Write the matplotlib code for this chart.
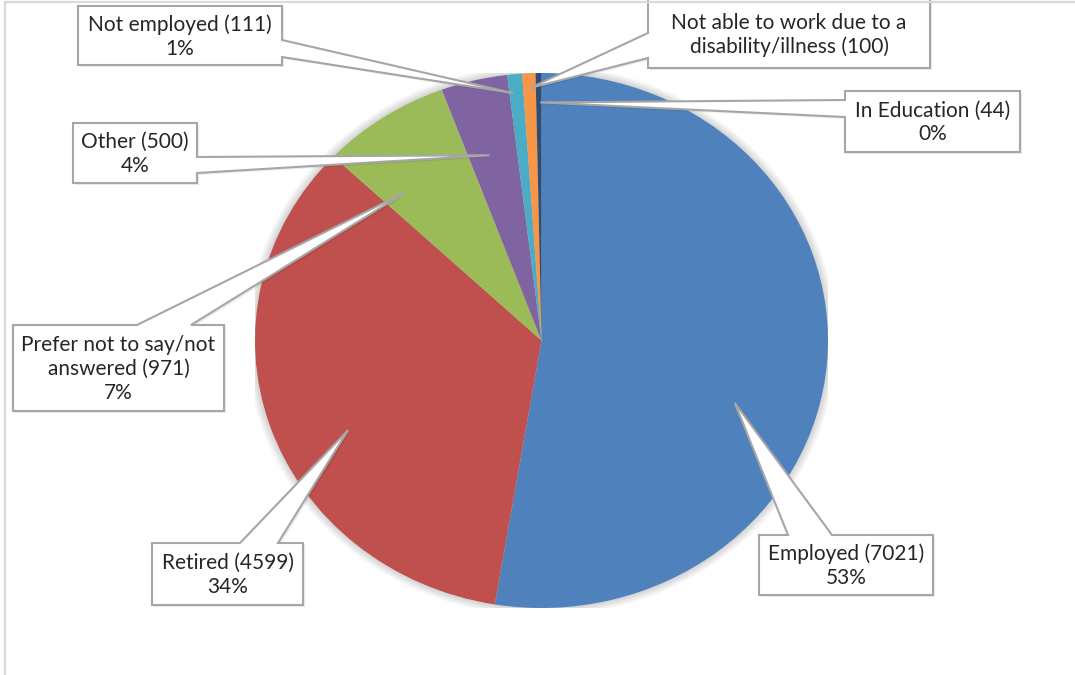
import matplotlib
matplotlib.use("Agg")
import matplotlib.pyplot as plt
from matplotlib.patches import Polygon, Ellipse
import numpy as np

# ---- data -------------------------------------------------------------
categories = [
    "Employed",
    "Retired",
    "Prefer not to say/not\nanswered",
    "Other",
    "Not employed",
    "Not able to work due to a\ndisability/illness",
    "In Education",
]
counts = [7021, 4599, 971, 500, 111, 100, 44]
show_percent = [True, True, True, True, True, False, True]
colors = ["#4F81BD", "#C0504D", "#9BBB59", "#8064A2", "#4BACC6", "#F79646", "#2C4D75"]

# ---- layout (pixels, origin top-left) --------------------------------
W, H = 1075, 675
pie_box = (255, 73, 828, 608)          # left, top, right, bottom of the pie
# callout boxes: (left, top, right, bottom, side, base0, base1)
callout_boxes = [
    (759, 535, 933, 595, "top", 788, 832),
    (152, 543, 303, 605, "top", 240, 278),
    (13, 325, 224, 411, "top", 137, 191),
    (73, 123, 197, 183, "right", 157, 173),
    (78, 6, 282, 65, "right", 40, 57),
    (648, -2, 930, 68, "left", 33, 58),
    (845, 91, 1020, 152, "left", 100, 117),
]
# where each pointer lands: fraction across the wedge (clockwise) and radius
tip_frac = [0.576, 0.437, 0.225, 0.42, 0.26, 0.55, 0.75]
tip_rad = [0.714, 0.754, 0.73, 0.716, 0.93, 0.945, 0.89]

plt.rcParams["font.family"] = ["Lato", "DejaVu Sans"]

fig = plt.figure(figsize=(W / 100, H / 100), dpi=100)
fig.patch.set_facecolor("white")

l, t, r, b = pie_box
ax = fig.add_axes([l / W, (H - b) / H, (r - l) / W, (b - t) / H])
wedges, _ = ax.pie(counts, colors=colors, startangle=90, counterclock=False,
                   radius=1.0, wedgeprops=dict(linewidth=0))
ax.set_aspect("auto")
ax.set_xlim(-1, 1)
ax.set_ylim(-1, 1)
ax.axis("off")

# soft shadow around the pie
for s in np.linspace(1.03, 1.0, 8):
    ax.add_patch(Ellipse((0, 0.0), 2 * s, 2 * s, facecolor="#000000",
                         alpha=0.025, linewidth=0, zorder=0))

# overlay axes in pixel coordinates for the callouts and frame
ov = fig.add_axes([0, 0, 1, 1], zorder=5)
ov.set_xlim(0, W)
ov.set_ylim(H, 0)
ov.axis("off")
ov.patch.set_alpha(0)

# chart-area frame (left and top edges visible)
ov.plot([5, 5, W + 5], [H + 5, 2, 2], color="#D9D9D9", lw=1.6,
        solid_joinstyle="miter", clip_on=False)

total = sum(counts)
to_px = ov.transData.inverted()

for i, w in enumerate(wedges):
    # tip point inside the wedge, in pie data coords
    th1, th2 = w.theta1, w.theta2
    ang = np.deg2rad(th2 - tip_frac[i] * (th2 - th1))
    tx, ty = tip_rad[i] * np.cos(ang), tip_rad[i] * np.sin(ang)
    px, py = to_px.transform(ax.transData.transform((tx, ty)))

    x0, y0, x1, y1, side, b0, b1 = callout_boxes[i]
    if side == "top":
        verts = [(x0, y0), (b0, y0), (px, py), (b1, y0), (x1, y0), (x1, y1), (x0, y1)]
    elif side == "right":
        verts = [(x0, y0), (x1, y0), (x1, b0), (px, py), (x1, b1), (x1, y1), (x0, y1)]
    else:
        verts = [(x0, y0), (x1, y0), (x1, y1), (x0, y1), (x0, b1), (px, py), (x0, b0)]

    # faint drop shadow then the callout itself
    shadow = [(vx + 2, vy + 2) for vx, vy in verts]
    ov.add_patch(Polygon(shadow, closed=True, facecolor="#000000", alpha=0.08,
                         linewidth=0, clip_on=False))
    ov.add_patch(Polygon(verts, closed=True, facecolor="white", edgecolor="#A6A6A6",
                         linewidth=1.5, joinstyle="miter", clip_on=False))

    label = f"{categories[i]} ({counts[i]})"
    if show_percent[i]:
        label += f"\n{round(100 * counts[i] / total):.0f}%"
    cy = (max(y0, 0) + y1) / 2 if i == 5 else (y0 + y1) / 2
    ov.text((x0 + x1) / 2, cy + 1, label, ha="center", va="center",
            fontsize=15, color="#262626", linespacing=1.25, clip_on=False)

fig.savefig("out.png", dpi=100, facecolor="white")
